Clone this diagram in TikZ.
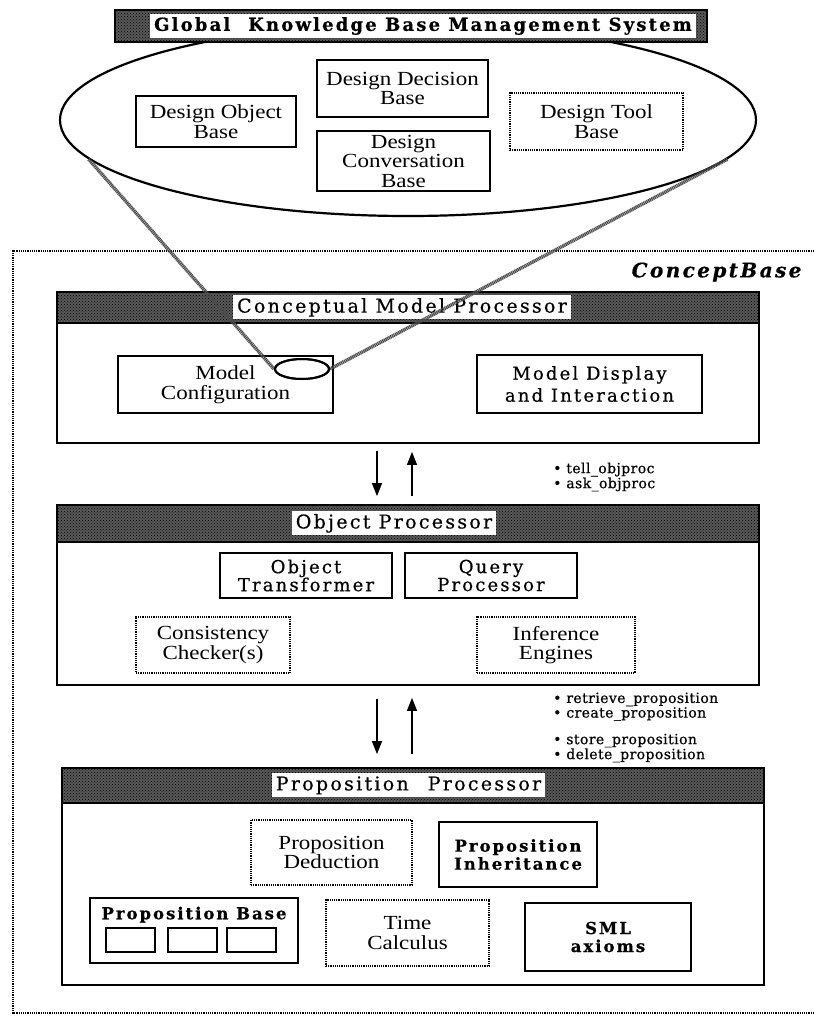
\documentclass[tikz,border=0pt]{standalone}
\usepackage{fontspec}
\setmainfont{Liberation Serif}[FakeStretch=1.15]
\newfontfamily\slabfamily{DejaVu Serif}[LetterSpace=12,FakeBold=0.5]
\newfontfamily\notefamily{DejaVu Serif}[LetterSpace=3,FakeBold=0.6]
\usetikzlibrary{positioning,shapes.geometric,patterns,arrows.meta}

\newcommand{\boxfont}{\fontsize{20}{19.5}\selectfont}
\newcommand{\slabfont}{\slabfamily\fontsize{18}{18}\selectfont}
\newcommand{\slabbold}{\slabfamily\bfseries\fontsize{16.5}{18}\selectfont}
\newcommand{\notefont}{\notefamily\fontsize{14}{12.5}\selectfont}

\tikzset{
  panel/.style={draw, line width=1.8pt, fill=white, inner sep=0pt},
  hdrbar/.style={draw, line width=1.5pt, inner sep=0pt, preaction={fill=black!65},
    pattern=crosshatch dots, pattern color=black},
  hdrlabel/.style={fill=white, inner xsep=4pt, inner ysep=0pt, minimum height=24pt,
    font=\slabfamily\fontsize{19}{19}\selectfont},
  solidbox/.style={draw, line width=1.6pt, align=center, inner sep=0pt, font=\boxfont},
  dotbox/.style={solidbox, line width=1.2pt, densely dotted},
  slabbox/.style={solidbox, line width=2pt, font=\slabfont},
  slot/.style={draw, line width=2pt, minimum width=49pt, minimum height=24pt, inner sep=0pt},
  hatchline/.style={line width=3.5pt, draw=black!70, dash pattern=on 1.2pt off 0.6pt},
  flow/.style={line width=1.4pt, -{Triangle[length=13pt,width=10pt]}},
  note/.style={align=left, anchor=west, inner sep=0pt, font=\notefont}
}

\begin{document}
\begin{tikzpicture}[x=1pt,y=-1pt]
\useasboundingbox (0,0) rectangle (814,1026);

% global knowledge base
\node[draw, ellipse, line width=2.2pt, minimum width=696pt, minimum height=192pt, inner sep=0pt] (gkb) at (408,120) {};
\node[solidbox, minimum width=160pt, minimum height=51pt] (dobj) at (216,121.5) {Design Object\\Base};
\node[solidbox, minimum width=171pt, minimum height=57pt] (ddec) at (402.5,88.5) {Design Decision\\Base};
\node[solidbox, minimum width=173pt, minimum height=60pt] (dconv) at (403.5,161) {Design\\Conversation\\Base};
\node[dotbox, minimum width=173pt, minimum height=57pt] (dtool) at (596.5,121.5) {Design Tool\\Base};
\node[hdrbar, minimum width=592pt, minimum height=32pt] (gkbbar) at (411,26) {};
\node[hdrlabel, font=\slabfamily\bfseries\fontsize{18}{18}\selectfont] (gkblabel) at (423,26) {Global\quad Knowledge Base Management System};

% ConceptBase frame
\draw[line width=1.2pt, densely dotted] (814,251) -- (13,251) -- (13,1013) -- (814,1013);
\node[anchor=east, font=\slabfamily\bfseries\itshape\fontsize{20}{20}\selectfont] (cbase) at (805,272) {ConceptBase};

% conceptual model processor
\node[panel, minimum width=702pt, minimum height=151pt] (cmp) at (408,367.5) {};
\node[hdrbar, minimum width=702pt, minimum height=31pt, anchor=north] (cmphdr) at (cmp.north) {};
\node[hdrlabel] (cmplabel) at ([xshift=-6pt]cmphdr.center) {Conceptual Model Processor};
\node[solidbox, minimum width=215pt, minimum height=57pt] (mconf) at (225.5,384.5) {Model\\Configuration};
\node[slabbox, minimum width=225pt, minimum height=58pt] (mdisp) at (589.5,384) {Model Display\\[4pt]and Interaction};

% zoom from the model configuration into the knowledge base
\node[draw, ellipse, line width=2pt, minimum width=54pt, minimum height=20pt, inner sep=0pt] (focus) at (302,369) {};
\draw[hatchline] (gkb.187) -- (focus.west);
\draw[hatchline] (gkb.353) -- (focus.east);
\node[draw, ellipse, line width=2pt, minimum width=54pt, minimum height=20pt, inner sep=0pt] at (focus) {};

% object processor
\node[panel, minimum width=702pt, minimum height=180pt] (op) at (408,595) {};
\node[hdrbar, minimum width=702pt, minimum height=37pt, anchor=north] (ophdr) at (op.north) {};
\node[hdrlabel] (oplabel) at ([xshift=-14pt]ophdr.center) {Object Processor};
\node[slabbox, minimum width=172pt, minimum height=45pt] (otrans) at (306,575.5) {Object\\Transformer};
\node[slabbox, minimum width=172pt, minimum height=45pt, right=11pt of otrans] (qproc) {Query\\Processor};
\node[dotbox, minimum width=154pt, minimum height=56pt] (cons) at (213,645) {Consistency\\Checker(s)};
\node[dotbox, minimum width=158pt, minimum height=56pt] (infer) at (556,645) {Inference\\Engines};

% proposition processor
\node[panel, minimum width=702pt, minimum height=217pt] (pp) at (413,876.5) {};
\node[hdrbar, minimum width=702pt, minimum height=35pt, anchor=north] (pphdr) at (pp.north) {};
\node[hdrlabel] (pplabel) at ([xshift=-4.5pt]pphdr.center) {Proposition\quad Processor};
\node[dotbox, minimum width=161pt, minimum height=65pt] (pded) at (331.5,852.5) {Proposition\\Deduction};
\node[slabbox, minimum width=158pt, minimum height=65pt, font=\slabbold] (pinh) at (518,854.5) {Proposition\\Inheritance};
\node[solidbox, minimum width=208pt, minimum height=65pt] (pbase) at (194,930.5) {};
\node[anchor=north, font=\slabbold] (pbtitle) at ([yshift=-6pt]pbase.north) {Proposition Base};
\node[slot] (slot1) at (130,940) {};
\node[slot, right=11pt of slot1] (slot2) {};
\node[slot, right=8pt of slot2] (slot3) {};
\node[dotbox, minimum width=163pt, minimum height=66pt] (tcalc) at (407.5,933) {Time\\Calculus};
\node[slabbox, minimum width=166pt, minimum height=68pt, font=\slabbold] (sml) at (608,937) {SML\\axioms};

% interfaces between the processors
\draw[flow] ([xshift=-31pt,yshift=-7pt]cmp.south) -- ([xshift=-31pt,yshift=8pt]op.north);
\draw[flow] ([xshift=4pt,yshift=8pt]op.north) -- ([xshift=4pt,yshift=-8pt]cmp.south);
\draw[flow] ([xshift=-31pt,yshift=-13pt]op.south) -- ([xshift=-36pt,yshift=13pt]pp.north);
\draw[flow] ([xshift=-1pt,yshift=13pt]pp.north) -- ([xshift=4pt,yshift=-12pt]op.south);
\node[note] (cmpops) at (553,477) {• tell\_objproc\\• ask\_objproc};
\node[note] (ppops) at (553,727.5) {• retrieve\_proposition\\• create\_proposition\\[12pt]• store\_proposition\\• delete\_proposition};

\end{tikzpicture}
\end{document}
